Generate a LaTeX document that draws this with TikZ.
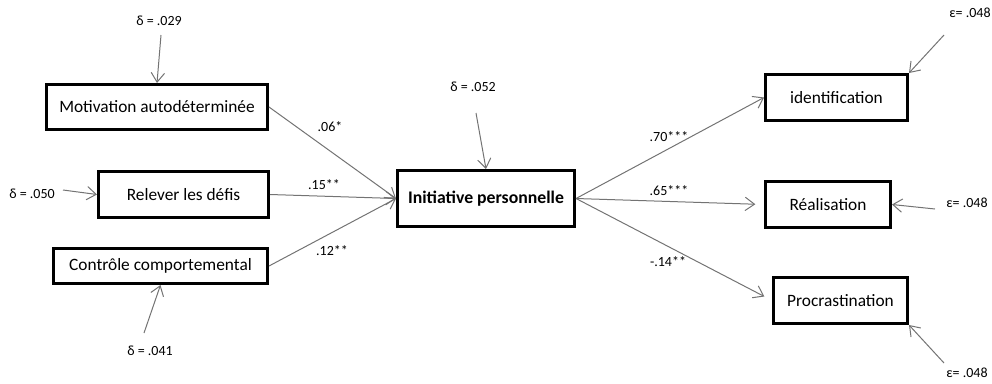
\documentclass[tikz,border=0pt]{standalone}
\usepackage{fontspec}
\setmainfont{Carlito}
\usetikzlibrary{arrows.meta}
\tikzset{%
  >={Straight Barb[width=10pt,length=7pt]},
  % Specifications for style of nodes:
          varbox/.style = {rectangle, draw=black, line width=2.25pt,
                           inner sep=0pt, text centered,
                           font=\fontsize{13}{15}\selectfont},
         mainbox/.style = {varbox, font=\fontsize{13.3}{15}\selectfont\bfseries},
            coef/.style = {inner sep=0pt, font=\fontsize{10.5}{12}\selectfont},
            link/.style = {->, draw=black!55, line width=0.75pt},
}

\begin{document}
\begin{tikzpicture}[x=0.75pt, y=-0.75pt]
  \useasboundingbox (0,0) rectangle (992,383);
  % Specification of nodes (position, etc.)
  \node (init)  [mainbox, minimum width=132.75pt, minimum height=42pt] at (486,198.5) {Initiative personnelle};
  \node (mot)   [varbox, minimum width=165.75pt, minimum height=33.75pt] at (157,107) {Motivation autodéterminée};
  \node (rel)   [varbox, minimum width=127.5pt, minimum height=34.5pt] at (183.5,194.5) {Relever les défis};
  \node (ctrl)  [varbox, minimum width=160.5pt, minimum height=26.25pt] at (160.5,266) {Contrôle comportemental};
  \node (ident) [varbox, minimum width=106.5pt, minimum height=34.5pt] at (836.5,97.5) {identification};
  \node (real)  [varbox, minimum width=93.75pt, minimum height=34.5pt] at (828,204.5) {Réalisation};
  \node (proc)  [varbox, minimum width=100.5pt, minimum height=34.5pt] at (840.5,300.5) {Procrastination};
  % residual terms
  \node (dmot)   [coef] at (159,21)  {δ = .029};
  \node (drel)   [coef] at (32,194)  {δ = .050};
  \node (dctrl)  [coef] at (150,351) {δ = .041};
  \node (dinit)  [coef] at (473,87)  {δ = .052};
  \node (eident) [coef] at (970,13)  {ε= .048};
  \node (ereal)  [coef] at (967,203) {ε= .048};
  \node (eproc)  [coef] at (967,373) {ε= .048};
  \coordinate (dmotS)   at (161,35);
  \coordinate (drelS)   at (63,190);
  \coordinate (dctrlS)  at (144,333);
  \coordinate (dinitS)  at (476,113);
  \coordinate (eidentS) at (944,35);
  \coordinate (erealS)  at (935,209);
  \coordinate (eprocS)  at (944,363);
  % Specification of lines between nodes specified above
  \draw[link] (mot.east) -- (init.west);
  \draw[link] (rel.east) -- (init.west);
  \draw[link] (ctrl.east) -- (init.west);
  \draw[link] (init.east) -- (ident.west);
  \draw[link, shorten >=6.5pt] (init.east) -- (real.west);
  \draw[link, shorten >=6.5pt] (init.east) -- (proc.west);
  \draw[link] (dmotS) -- (mot.north);
  \draw[link] (drelS) -- (rel.west);
  \draw[link] (dctrlS) -- (ctrl.south);
  \draw[link] (dinitS) -- (init.north);
  \draw[link] (eidentS) -- (ident.north east);
  \draw[link] (erealS) -- (real.east);
  \draw[link] (eprocS) -- (proc.south east);
  % path coefficients
  \node (c1) [coef] at (330,127) {.06*};
  \node (c2) [coef] at (324,185) {.15**};
  \node (c3) [coef] at (332,251) {.12**};
  \node (c4) [coef] at (669,137) {.70***};
  \node (c5) [coef] at (669,191) {.65***};
  \node (c6) [coef] at (668,262) {-.14**};
\end{tikzpicture}
\end{document}
